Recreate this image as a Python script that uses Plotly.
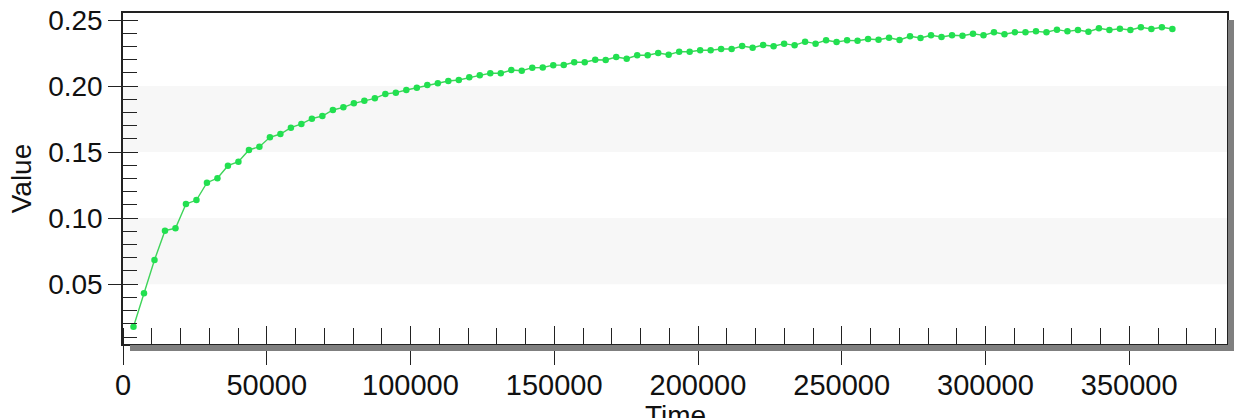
import plotly.graph_objects as go

# ---- data ----
step_days = 3650
time_values = [step_days * k for k in range(1, 101)]
value_series = [
    0.0178, 0.0431, 0.0683, 0.0905, 0.0923, 0.1107, 0.1137, 0.1268, 0.1302, 0.1397,
    0.1427, 0.1516, 0.1541, 0.1612, 0.1637, 0.1685, 0.1713, 0.1753, 0.1773, 0.1819,
    0.1839, 0.1869, 0.1889, 0.1907, 0.1940, 0.1950, 0.1970, 0.1988, 0.2008, 0.2021,
    0.2038, 0.2046, 0.2066, 0.2081, 0.2097, 0.2097, 0.2121, 0.2116, 0.2139, 0.2140,
    0.2158, 0.2159, 0.2180, 0.2180, 0.2199, 0.2197, 0.2220, 0.2207, 0.2233, 0.2233,
    0.2250, 0.2237, 0.2260, 0.2260, 0.2271, 0.2271, 0.2280, 0.2280, 0.2303, 0.2290,
    0.2311, 0.2301, 0.2321, 0.2308, 0.2336, 0.2321, 0.2346, 0.2333, 0.2346, 0.2343,
    0.2356, 0.2351, 0.2366, 0.2349, 0.2377, 0.2364, 0.2384, 0.2371, 0.2384, 0.2381,
    0.2396, 0.2384, 0.2407, 0.2392, 0.2407, 0.2407, 0.2414, 0.2407, 0.2427, 0.2414,
    0.2424, 0.2411, 0.2437, 0.2424, 0.2434, 0.2424, 0.2445, 0.2432, 0.2445, 0.2432,
]
band_ranges = [(0.05, 0.10), (0.15, 0.20)]
x_title = "Time"
y_title = "Value"

FONT = "Liberation Sans, Arial, sans-serif"
X_RANGE = [0, 384000]
Y_RANGE = [0.0047, 0.2553]

fig = go.Figure()
fig.add_trace(go.Scatter(
    x=time_values, y=value_series, mode="lines+markers",
    line=dict(color="#3fd45a", width=1.4),
    marker=dict(color="#22e050", size=6.5),
    showlegend=False, hoverinfo="x+y",
))
# invisible companion trace so the overlay axes (inside major ticks) are drawn
fig.add_trace(go.Scatter(
    x=time_values, y=value_series, xaxis="x2", yaxis="y2", mode="lines",
    line=dict(width=0), opacity=0, showlegend=False, hoverinfo="skip",
))

for lo, hi in band_ranges:
    fig.add_shape(type="rect", xref="paper", yref="y", x0=0, x1=1, y0=lo, y1=hi,
                  fillcolor="#f7f7f7", line_width=0, layer="below")
W, H = 1104, 331
off = 7
fig.add_shape(type="rect", xref="paper", yref="paper", layer="above",
              x0=1 + 1 / W, x1=1 + off / W, y0=-off / H, y1=1 - off / H,
              fillcolor="#7f7f7f", line_width=0)
fig.add_shape(type="rect", xref="paper", yref="paper", layer="above",
              x0=off / W, x1=1 + off / W, y0=-off / H, y1=-1 / H,
              fillcolor="#7f7f7f", line_width=0)

fig.add_annotation(text=x_title, xref="paper", yref="paper", x=0.5, y=0,
                   yshift=-54, yanchor="top", showarrow=False,
                   font=dict(size=28, family=FONT, color="#111111"))

TC = "#222222"
fig.update_layout(
    width=1234, height=418,
    margin=dict(l=123, r=7, t=13, b=74, autoexpand=False),
    paper_bgcolor="white", plot_bgcolor="white",
    font=dict(family=FONT, color="#111111"),
    xaxis=dict(
        range=X_RANGE, tickmode="linear", tick0=0, dtick=50000,
        ticks="outside", ticklen=19, tickwidth=1.2, tickcolor=TC,
        minor=dict(ticks="inside", ticklen=16, dtick=10000, tickcolor=TC, tickwidth=1.2, showgrid=False),
        showline=True, linecolor=TC, linewidth=1.5, mirror=True,
        showgrid=False, zeroline=False, ticklabelstandoff=-5,
        tickfont=dict(size=29, family=FONT), tickformat="d",
    ),
    yaxis=dict(
        range=Y_RANGE, tickmode="linear", tick0=0, dtick=0.05,
        ticks="outside", ticklen=13, tickwidth=1.2, tickcolor=TC,
        minor=dict(ticks="inside", ticklen=14, dtick=0.01, tickcolor=TC, tickwidth=1.2, showgrid=False),
        showline=True, linecolor=TC, linewidth=1.5, mirror=True,
        showgrid=False, zeroline=False,
        tickfont=dict(size=28, family=FONT), tickformat=".2f",
        title=dict(text=y_title, font=dict(size=28, family=FONT), standoff=8),
    ),
    xaxis2=dict(
        overlaying="x", anchor="y", side="bottom", range=X_RANGE,
        tickmode="linear", tick0=0, dtick=50000,
        ticks="inside", ticklen=18, tickwidth=1.2, tickcolor=TC,
        showticklabels=False, showline=False, showgrid=False, zeroline=False,
    ),
    yaxis2=dict(
        overlaying="y", anchor="x", side="left", range=Y_RANGE,
        tickmode="linear", tick0=0, dtick=0.05,
        ticks="inside", ticklen=15, tickwidth=1.2, tickcolor=TC,
        showticklabels=False, showline=False, showgrid=False, zeroline=False,
    ),
)

fig.write_html("out.html")
